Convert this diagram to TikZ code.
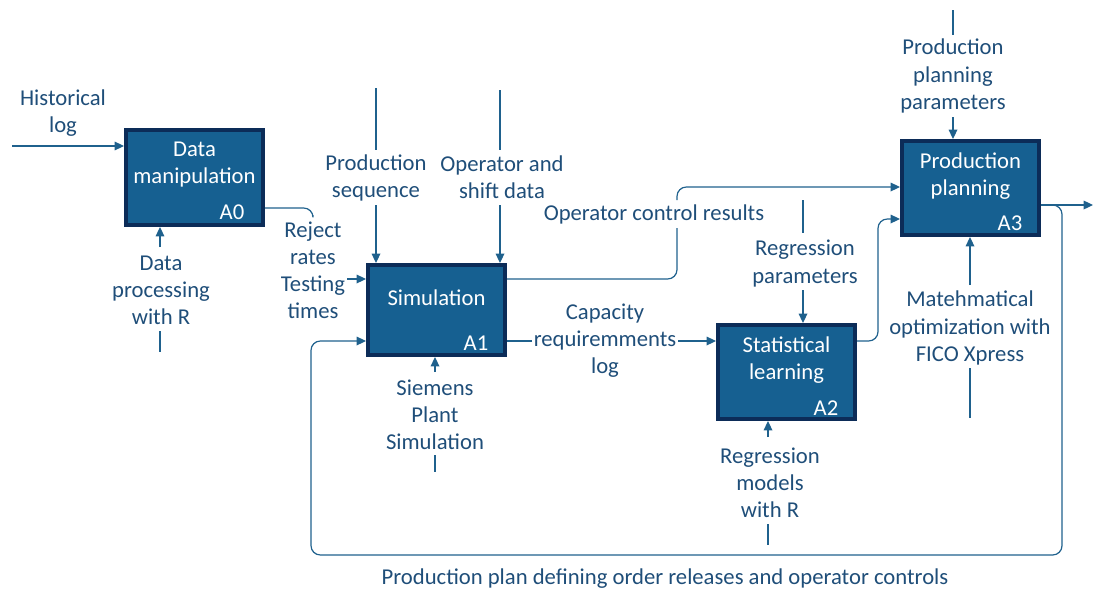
\documentclass[tikz,border=0pt]{standalone}
\usepackage{fontspec}
\setmainfont{Carlito}
\usetikzlibrary{arrows.meta,calc}
\definecolor{boxfill}{RGB}{22,96,145}
\definecolor{boxline}{RGB}{12,44,88}
\definecolor{lnc}{RGB}{31,97,141}
\definecolor{txt}{RGB}{31,78,121}
\begin{document}
\begin{tikzpicture}[x=0.75pt,y=-0.75pt,
  box/.style={draw=boxline,line width=3.3pt,fill=boxfill,minimum width=102.5pt,inner sep=0pt},
  lbl/.style={text=txt,font=\fontsize{17}{20.3}\selectfont,align=center,inner sep=0pt},
  wt/.style={text=white,font=\fontsize{17}{20.3}\selectfont,align=center,inner sep=0pt},
  wire/.style={draw=lnc,line width=0.9pt},
  arr/.style={wire,-{Triangle[length=7pt,width=6.5pt]}},
  rc/.style={rounded corners=7pt}]
\useasboundingbox (0,0) rectangle (1093,589);

% boxes
\node[box,minimum height=71pt] (a0) at (194.5,177.5) {};
\node[box,minimum height=67.25pt] (a1) at (436.5,310) {};
\node[box,minimum height=70.25pt] (a2) at (786.5,372) {};
\node[box,minimum height=70.25pt] (a3) at (970.5,188) {};

\node[wt] (a0t) at (194.5,165) {Data\\manipulation};
\node[wt] (a1t) at (436.5,298) {Simulation};
\node[wt] (a2t) at (786.5,360.5) {Statistical\\learning};
\node[wt] (a3t) at (970.5,176.5) {Production\\planning};
\node[wt] (a0n) at (232,212) {A0};
\node[wt] (a1n) at (476,343) {A1};
\node[wt] (a2n) at (826,408) {A2};
\node[wt] (a3n) at (1010,223) {A3};

% labels
\node[lbl] (hist) at (63,113.5) {Historical\\log};
\node[lbl] (reject) at (313,270) {Reject\\rates\\Testing\\times};
\node[lbl] (dproc) at (161,290) {Data\\processing\\with R};
\node[lbl] (pseq) at (376,177.5) {Production\\sequence};
\node[lbl] (opshift) at (502,177.5) {Operator and\\shift data};
\node[lbl] (opctrl) at (654,214) {Operator control results};
\node[lbl] (cap) at (605,341) {Capacity\\requiremments\\log};
\node[lbl] (siemens) at (435,415) {Siemens\\Plant\\Simulation};
\node[lbl] (regp) at (805,263.5) {Regression\\parameters};
\node[lbl] (regm) at (770,483) {Regression\\models\\with R};
\node[lbl] (ppp) at (953,76) {Production\\planning\\parameters};
\node[lbl] (math) at (970,328) {Matehmatical\\optimization with\\FICO Xpress};
\node[lbl] (plan) at (665,579) {Production plan defining order releases and operator controls};

% free ends
\coordinate (histL) at (12,146);
\coordinate (rjEnd) at (313,215);
\coordinate (testR) at (347,279);
\coordinate (dpA) at (160,247);
\coordinate (dpB1) at (160,331);
\coordinate (dpB2) at (160,352);
\coordinate (psA) at (376,88);
\coordinate (psB) at (376,150);
\coordinate (psC) at (376,205);
\coordinate (osA) at (500,90);
\coordinate (osB) at (500,150);
\coordinate (osC) at (500,205);
\coordinate (ocA) at (677,228);
\coordinate (ocB) at (677,200);
\coordinate (capA) at (532,341);
\coordinate (capB) at (678,341);
\coordinate (siA) at (435,372);
\coordinate (siB1) at (435,455);
\coordinate (siB2) at (435,472);
\coordinate (rpA) at (803,200);
\coordinate (rpB) at (803,233);
\coordinate (rpC) at (803,290);
\coordinate (rmA) at (768,437);
\coordinate (rmB1) at (768,524);
\coordinate (rmB2) at (768,545);
\coordinate (ppA) at (953,10);
\coordinate (ppB) at (953,35);
\coordinate (ppC) at (953,117);
\coordinate (mA) at (970,285);
\coordinate (mB1) at (970,368);
\coordinate (mB2) at (970,418);
\coordinate (outR) at (1093,205);

% connectors
\draw[arr] (histL) -- (histL -| a0.west);
\draw[wire,rc] ($(a0.east)+(0,30.5)$) -- (rjEnd |- 0,208) -- (rjEnd);
\draw[arr] (testR) -- (testR -| a1.west);
\draw[arr] (dpA) -- (dpA |- a0.south);
\draw[wire] (dpB1) -- (dpB2);
\draw[wire] (psA) -- (psB);
\draw[arr] (psC) -- (psC |- a1.north);
\draw[wire] (osA) -- (osB);
\draw[arr] (osC) -- (osC |- a1.north);
\draw[wire,rc] ($(a1.east)+(0,-31)$) -- (ocA |- 0,279) -- (ocA);
\draw[arr,rc] (ocB) -- (ocB |- 0,187) -- ($(a3.west)+(0,-1)$);
\draw[wire] ($(a1.east)+(0,31)$) -- (capA);
\draw[arr] (capB) -- (capB -| a2.west);
\draw[arr] (siA) -- (siA |- a1.south);
\draw[wire] (siB1) -- (siB2);
\draw[wire] (rpA) -- (rpB);
\draw[arr] (rpC) -- (rpC |- a2.north);
\draw[arr] (rmA) -- (rmA |- a2.south);
\draw[wire] (rmB1) -- (rmB2);
\draw[arr,rc] ($(a2.east)+(0,-31)$) -- (878,341) -- (878,219) -- ($(a3.west)+(0,31)$);
\draw[wire] (ppA) -- (ppB);
\draw[arr] (ppC) -- (ppC |- a3.north);
\draw[arr] (mA) -- (mA |- a3.south);
\draw[wire] (mB1) -- (mB2);
\draw[arr] ($(a3.east)+(0,17)$) -- (outR);
\draw[arr,rc] ($(a3.east)+(0,17)$) -- (1062,205) -- (1062,555) -- (311,555) -- (311,341) -- ($(a1.west)+(0,31)$);
\end{tikzpicture}
\end{document}
